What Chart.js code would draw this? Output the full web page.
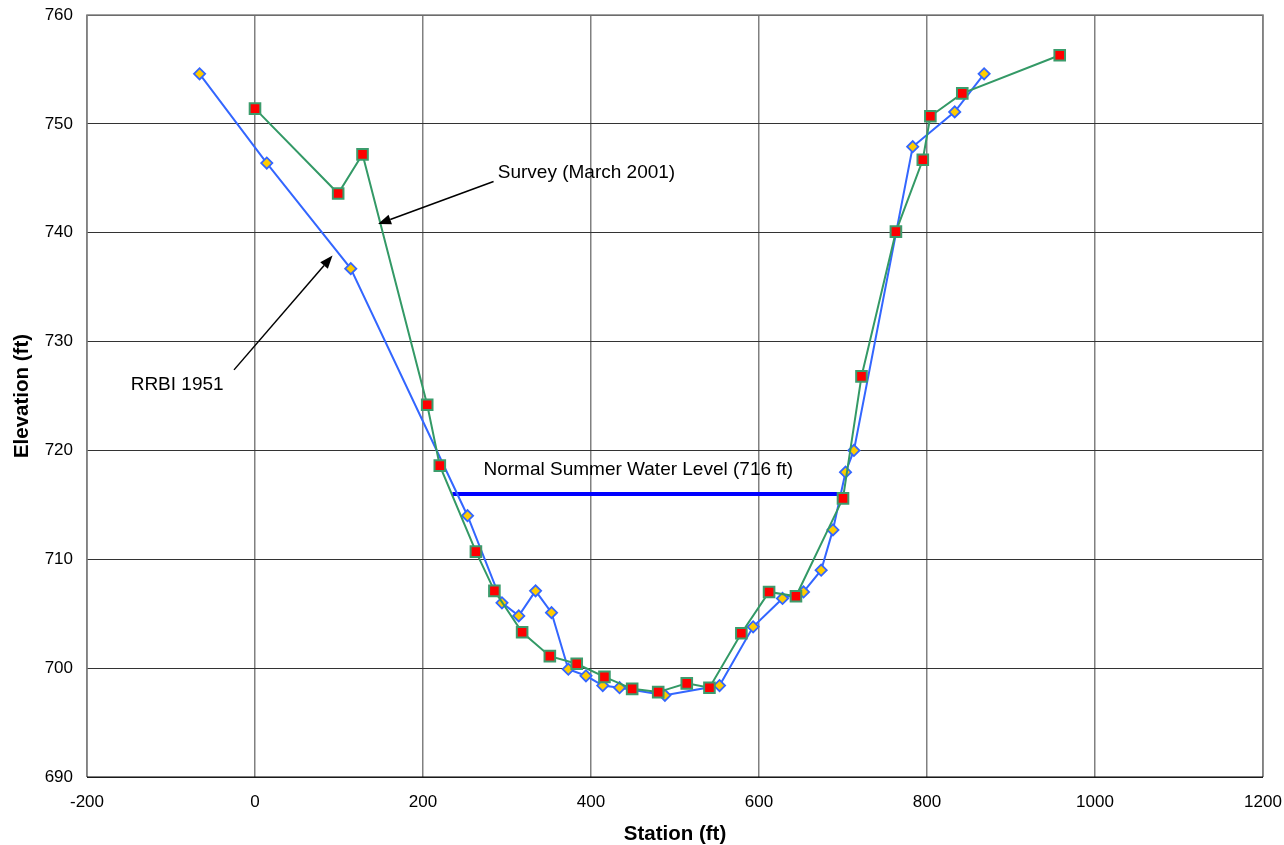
<!DOCTYPE html>
<html>
<head>
<meta charset="utf-8">
<script src="https://cdn.jsdelivr.net/npm/chart.js@4.4.1/dist/chart.umd.min.js"></script>
<style>
  html, body { margin: 0; padding: 0; background: #fff; }
</style>
</head>
<body>
<canvas id="xsChart" width="1284" height="845"></canvas>
<script>
// RRBI 1951 cross-section
const rrbiStation = [-66, 14, 114, 253, 294, 314, 334, 353, 373, 394, 414, 434, 488, 553, 593, 628, 653, 674, 688, 703, 713, 783, 833, 868];
const rrbiElev = [754.6, 746.4, 736.7, 714.0, 706.0, 704.8, 707.1, 705.1, 699.9, 699.3, 698.4, 698.2, 697.5, 698.4, 703.8, 706.4, 707.0, 709.0, 712.7, 718.0, 720.0, 747.9, 751.1, 754.6];

// Survey (March 2001)
const surveyStation = [0, 99, 128, 205, 220, 263, 285, 318, 351, 383, 416, 449, 480, 514, 541, 579, 612, 644, 700, 722, 763, 795, 804, 842, 958];
const surveyElev = [751.4, 743.6, 747.2, 724.2, 718.6, 710.7, 707.1, 703.3, 701.1, 700.4, 699.2, 698.1, 697.8, 698.6, 698.2, 703.2, 707.0, 706.6, 715.6, 726.8, 740.1, 746.7, 750.7, 752.8, 756.3];

// normal summer pool
const waterStation = [235, 695];
const waterElev = [716, 716];

// text labels and arrows (data units)
const noteText = ["Survey (March 2001)", "RRBI 1951", "Normal Summer Water Level (716 ft)"];
const noteX = [289, -148, 272];
const noteY = [745.5, 726.0, 718.2];
const arrowFrom = [[284, 744.7], [-25, 727.4]];
const arrowTo = [[146.5, 740.8], [92.3, 737.9]];

const FONT = "'Liberation Sans', Arial, sans-serif";

function toPoints(xs, ys) {
    return xs.map((x, i) => ({ x: x, y: ys[i] }));
}

const notesPlugin = {
    id: "notes",
    afterDatasetsDraw(chart) {
        const ctx = chart.ctx;
        const xs = chart.scales.x;
        const ys = chart.scales.y;
        ctx.save();
        ctx.fillStyle = "#000";
        ctx.font = "19px " + FONT;
        ctx.textAlign = "left";
        ctx.textBaseline = "middle";
        noteText.forEach((t, i) => {
            ctx.fillText(t, xs.getPixelForValue(noteX[i]), ys.getPixelForValue(noteY[i]));
        });

        ctx.strokeStyle = "#000";
        ctx.lineWidth = 1.5;
        arrowFrom.forEach((f, i) => {
            const x1 = xs.getPixelForValue(f[0]);
            const y1 = ys.getPixelForValue(f[1]);
            const x2 = xs.getPixelForValue(arrowTo[i][0]);
            const y2 = ys.getPixelForValue(arrowTo[i][1]);
            const ang = Math.atan2(y2 - y1, x2 - x1);
            const headLen = 13, headW = 5;
            const bx = x2 - headLen * Math.cos(ang);
            const by = y2 - headLen * Math.sin(ang);
            ctx.beginPath();
            ctx.moveTo(x1, y1);
            ctx.lineTo(bx, by);
            ctx.stroke();
            ctx.beginPath();
            ctx.moveTo(x2, y2);
            ctx.lineTo(bx + headW * Math.sin(ang), by - headW * Math.cos(ang));
            ctx.lineTo(bx - headW * Math.sin(ang), by + headW * Math.cos(ang));
            ctx.closePath();
            ctx.fill();
        });

        // plot frame
        const a = chart.chartArea;
        ctx.strokeStyle = "#808080";
        ctx.lineWidth = 1.5;
        ctx.beginPath();
        ctx.moveTo(a.left, a.bottom);
        ctx.lineTo(a.left, a.top);
        ctx.lineTo(a.right, a.top);
        ctx.lineTo(a.right, a.bottom);
        ctx.stroke();
        ctx.strokeStyle = "#000";
        ctx.lineWidth = 1.2;
        ctx.beginPath();
        ctx.moveTo(a.left, a.bottom);
        ctx.lineTo(a.right, a.bottom);
        ctx.stroke();
        ctx.restore();
    }
};

new Chart(document.getElementById("xsChart").getContext("2d"), {
    type: "line",
    data: {
        datasets: [
            {
                label: "Survey (March 2001)",
                data: toPoints(surveyStation, surveyElev),
                borderColor: "#339966",
                borderWidth: 2,
                pointStyle: "rect",
                pointRadius: 7.5,
                pointBackgroundColor: "#FF0000",
                pointBorderColor: "#3c9c6c",
                pointBorderWidth: 2,
                fill: false,
                tension: 0,
                order: 1
            },
            {
                label: "Normal Summer Water Level",
                data: toPoints(waterStation, waterElev),
                borderColor: "#0000FF",
                borderWidth: 4,
                pointRadius: 0,
                fill: false,
                order: 3
            },
            {
                label: "RRBI 1951",
                data: toPoints(rrbiStation, rrbiElev),
                borderColor: "#3366FF",
                borderWidth: 2,
                pointStyle: "rectRot",
                pointRadius: 5.6,
                pointBackgroundColor: "#FFCC00",
                pointBorderColor: "#3366FF",
                pointBorderWidth: 1.8,
                fill: false,
                tension: 0,
                order: 2
            }
        ]
    },
    options: {
        responsive: false,
        devicePixelRatio: 1,
        animation: false,
        layout: { padding: { top: 15, right: 21, left: 0, bottom: 0 } },
        plugins: {
            legend: { display: false },
            tooltip: { enabled: false }
        },
        scales: {
            x: {
                type: "linear",
                min: -200,
                max: 1200,
                afterFit: function (scale) {
                    scale.height = 68;
                    scale.paddingLeft = 0;
                    scale.paddingRight = 0;
                },
                ticks: {
                    stepSize: 200,
                    color: "#000",
                    font: { family: FONT, size: 17 },
                    padding: 15,
                    maxRotation: 0,
                    callback: (v) => String(v)
                },
                grid: { color: "#808080", lineWidth: 1.5, drawTicks: false },
                border: { display: false },
                title: {
                    display: true,
                    text: "Station (ft)",
                    color: "#000",
                    font: { family: FONT, size: 20.5, weight: "bold", lineHeight: 1 },
                    padding: { top: 0, bottom: 0 }
                }
            },
            y: {
                min: 690,
                max: 760,
                afterFit: function (scale) {
                    scale.width = 87;
                    scale.paddingTop = 0;
                    scale.paddingBottom = 0;
                },
                ticks: {
                    stepSize: 10,
                    color: "#000",
                    font: { family: FONT, size: 17 },
                    padding: 14,
                    callback: (v) => String(v)
                },
                grid: { color: "#333333", lineWidth: 1, drawTicks: false },
                border: { display: false },
                title: {
                    display: true,
                    text: "Elevation (ft)",
                    color: "#000",
                    font: { family: FONT, size: 20.5, weight: "bold", lineHeight: 1 },
                    padding: { top: 12, bottom: 0 }
                }
            }
        }
    },
    plugins: [notesPlugin]
});
</script>
</body>
</html>
